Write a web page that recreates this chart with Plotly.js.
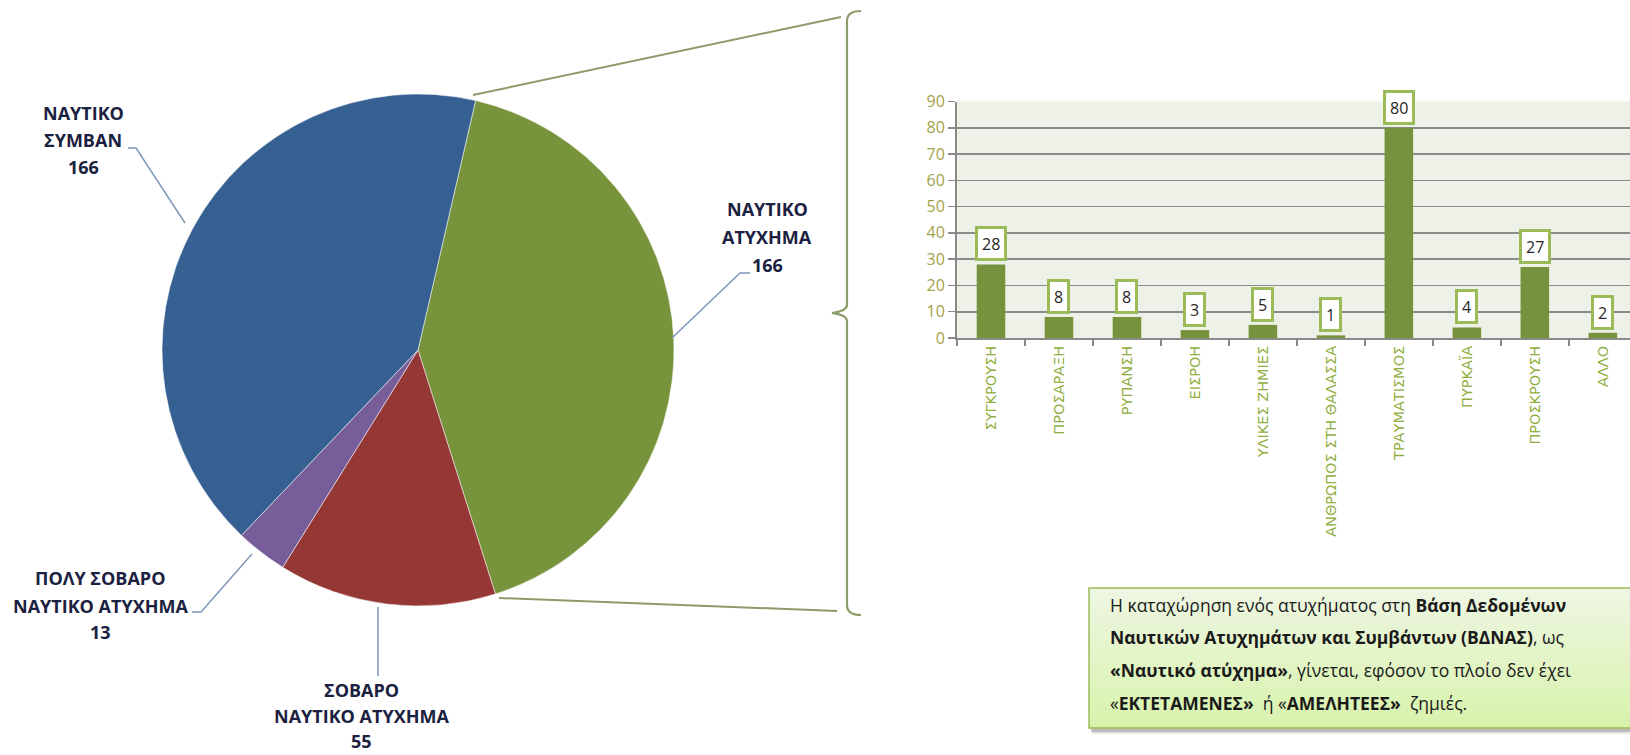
<!DOCTYPE html>
<html>
<head>
<meta charset="utf-8">
<script src="https://cdn.plot.ly/plotly-3.0.1.min.js"></script>
<style>
  html, body { margin: 0; padding: 0; background: #ffffff; overflow: hidden; }
  #chart { width: 1630px; height: 755px; }
</style>
</head>
<body>
<div id="chart"></div>
<script>
// ---------- DATA ----------
const pieLabels = ['ΝΑΥΤΙΚΟ ΑΤΥΧΗΜΑ', 'ΣΟΒΑΡΟ ΝΑΥΤΙΚΟ ΑΤΥΧΗΜΑ', 'ΠΟΛΥ ΣΟΒΑΡΟ ΝΑΥΤΙΚΟ ΑΤΥΧΗΜΑ', 'ΝΑΥΤΙΚΟ ΣΥΜΒΑΝ'];
const pieValues = [166, 55, 13, 166];
const pieColors = ['#77933C', '#953735', '#775E9B', '#366092'];

const barCategories = ['ΣΥΓΚΡΟΥΣΗ', 'ΠΡΟΣΑΡΑΞΗ', 'ΡΥΠΑΝΣΗ', 'ΕΙΣΡΟΗ', 'ΥΛΙΚΕΣ ΖΗΜΙΕΣ',
  'ΑΝΘΡΩΠΟΣ ΣΤΗ ΘΑΛΑΣΣΑ', 'ΤΡΑΥΜΑΤΙΣΜΟΣ', 'ΠΥΡΚΑΪΑ', 'ΠΡΟΣΚΡΟΥΣΗ', 'ΑΛΛΟ'];
const barValues = [28, 8, 8, 3, 5, 1, 80, 4, 27, 2];
const yTickValues = [0, 10, 20, 30, 40, 50, 60, 70, 80, 90];

const noteLines = [
  'Η καταχώρηση ενός ατυχήματος στη <b>Βάση Δεδομένων</b>',
  '<b>Ναυτικών Ατυχημάτων και Συμβάντων (ΒΔΝΑΣ)</b>, ως',
  '<b>«Ναυτικό ατύχημα»</b>, γίνεται, εφόσον το πλοίο δεν έχει',
  '«<b>ΕΚΤΕΤΑΜΕΝΕΣ»</b>  ή «<b>ΑΜΕΛΗΤΕΕΣ»</b>  ζημιές.'
];

// ---------- LAYOUT HELPERS ----------
const W = 1630, H = 755;
const px = x => x / W;
const py = y => 1 - y / H;
const FONT = 'Open Sans, Noto Sans, DejaVu Sans, sans-serif';

// label placement for each pie slice (pixel positions of text lines, words per line, leader path)
const pieLabelLayout = [
  { cx: 767, ys: [209, 237, 265], words: [1, 1], leader: [[750, 273], [740, 273], [672, 338]] },
  { cx: 361, ys: [690, 716, 741], words: [1, 2], leader: [[378, 607], [378, 676]] },
  { cx: 100, ys: [578, 606, 632], words: [2, 2], leader: [[192, 612], [201, 612], [252, 554]] },
  { cx: 83,  ys: [113, 140, 167], words: [1, 1], leader: [[128, 148], [136, 148], [185, 223]] }
];

const annotations = [];
const shapes = [];

function pathFrom(pts) {
  return pts.map((p, i) => (i ? 'L' : 'M') + px(p[0]).toFixed(5) + ',' + py(p[1]).toFixed(5)).join(' ');
}

// pie labels
pieLabels.forEach((lab, i) => {
  const L = pieLabelLayout[i];
  const words = lab.split(' ');
  const lines = [];
  let k = 0;
  L.words.forEach(n => { lines.push(words.slice(k, k + n).join(' ')); k += n; });
  lines.push(String(pieValues[i]));
  lines.forEach((t, j) => {
    annotations.push({
      xref: 'paper', yref: 'paper', x: px(L.cx), y: py(L.ys[j]),
      xanchor: 'center', yanchor: 'middle', showarrow: false,
      text: '<b>' + t + '</b>',
      font: { family: FONT, size: 18, color: '#1b2140' }
    });
  });
  shapes.push({ type: 'path', xref: 'paper', yref: 'paper', path: pathFrom(L.leader),
    line: { color: '#7f97b8', width: 1.5 } });
});

// connector lines from pie to bracket
shapes.push({ type: 'path', xref: 'paper', yref: 'paper', path: pathFrom([[473, 95], [841, 17]]),
  line: { color: '#8c9c68', width: 2 } });
shapes.push({ type: 'path', xref: 'paper', yref: 'paper', path: pathFrom([[499, 598], [837, 611]]),
  line: { color: '#8c9c68', width: 2 } });

// bracket
(function () {
  const P = (x, y) => px(x).toFixed(5) + ',' + py(y).toFixed(5);
  const d = 'M' + P(861, 11) + ' Q' + P(847, 11) + ' ' + P(847, 21) +
    ' L' + P(847, 305) + ' Q' + P(847, 311) + ' ' + P(832, 313) +
    ' Q' + P(847, 315) + ' ' + P(847, 321) +
    ' L' + P(847, 605) + ' Q' + P(847, 615) + ' ' + P(861, 615);
  shapes.push({ type: 'path', xref: 'paper', yref: 'paper', path: d,
    line: { color: '#8c9c68', width: 2.2 } });
})();

// note box: shadow, gradient fill, border
const bx0 = 1089, by0 = 588, bx1 = 1645, by1 = 728;
shapes.push({ type: 'rect', xref: 'paper', yref: 'paper', x0: px(bx0 + 3), x1: px(bx1 + 3), y0: py(by1 + 6), y1: py(by0 + 3),
  fillcolor: 'rgba(0,0,0,0.10)', line: { width: 0 } });
shapes.push({ type: 'rect', xref: 'paper', yref: 'paper', x0: px(bx0 + 2), x1: px(bx1 + 2), y0: py(by1 + 4), y1: py(by0 + 2),
  fillcolor: 'rgba(0,0,0,0.18)', line: { width: 0 } });
(function () {
  const top = [238, 246, 226], bot = [216, 243, 172];
  const n = 28;
  for (let i = 0; i < n; i++) {
    const t = i / (n - 1);
    const c = top.map((v, k) => Math.round(v + (bot[k] - v) * t));
    const ya = by0 + (by1 - by0) * i / n, yb = by0 + (by1 - by0) * (i + 1) / n + 0.6;
    shapes.push({ type: 'rect', xref: 'paper', yref: 'paper', x0: px(bx0), x1: px(bx1), y0: py(yb), y1: py(ya),
      fillcolor: 'rgb(' + c.join(',') + ')', line: { width: 0 } });
  }
})();
shapes.push({ type: 'rect', xref: 'paper', yref: 'paper', x0: px(bx0), x1: px(bx1), y0: py(by1), y1: py(by0),
  fillcolor: 'rgba(0,0,0,0)', line: { color: '#9BBB59', width: 1.5 } });

const noteYs = [605, 637, 670, 703];
noteLines.forEach((t, i) => {
  annotations.push({ xref: 'paper', yref: 'paper', x: px(1108), y: py(noteYs[i]),
    xanchor: 'left', yanchor: 'middle', showarrow: false, text: t,
    font: { family: FONT, size: 17.5, color: '#1a1a1a' } });
});

// bar value labels
barCategories.forEach((c, i) => {
  annotations.push({ xref: 'x', yref: 'y', x: c, y: barValues[i], xanchor: 'center', yanchor: 'bottom',
    yshift: 3, showarrow: false, text: String(barValues[i]), height: 21,
    bgcolor: '#ffffff', bordercolor: '#9BBB59', borderwidth: 3, borderpad: 4,
    font: { family: FONT, size: 16, color: '#262626' } });
});

// ---------- TRACES ----------
const pieTrace = {
  type: 'pie', labels: pieLabels, values: pieValues, sort: false, direction: 'clockwise', rotation: 13,
  marker: { colors: pieColors, line: { color: 'rgba(255,255,255,0.5)', width: 1 } },
  textinfo: 'none', hole: 0, showlegend: false,
  domain: { x: [px(418 - 256), px(418 + 256)], y: [py(350 + 256), py(350 - 256)] }
};

const barTrace = {
  type: 'bar', x: barCategories, y: barValues, xaxis: 'x', yaxis: 'y',
  marker: { color: '#76923C' }, showlegend: false
};

const layout = {
  width: W, height: H, margin: { l: 0, r: 0, t: 0, b: 0 },
  paper_bgcolor: '#ffffff', plot_bgcolor: '#eef1e7',
  showlegend: false, bargap: 0.58,
  xaxis: {
    domain: [px(957), 1], type: 'category', range: [-0.5, 9.4], autorange: false,
    showgrid: false, showline: true, linecolor: '#8a8a8a', linewidth: 2,
    ticks: 'outside', tickson: 'boundaries', ticklen: 6, tickcolor: '#8a8a8a', tickwidth: 1.5,
    tickangle: -90, tickfont: { family: 'DejaVu Sans, sans-serif', size: 14.5, color: '#8fae3e' }, fixedrange: true
  },
  yaxis: {
    domain: [py(338), py(101.5)], range: [0, 90], autorange: false,
    tickvals: yTickValues, ticktext: yTickValues.map(String),
    showgrid: true, gridcolor: '#8c8c8c', gridwidth: 1.6, zeroline: false,
    showline: true, linecolor: '#8a8a8a', linewidth: 2,
    ticks: 'outside', ticklen: 7, tickcolor: '#8a8a8a', tickwidth: 1.5,
    tickfont: { family: FONT, size: 16, color: '#a3a24a' }, fixedrange: true
  },
  shapes: shapes,
  annotations: annotations
};

Plotly.newPlot('chart', [pieTrace, barTrace], layout, { displayModeBar: false, staticPlot: true });
</script>
</body>
</html>
